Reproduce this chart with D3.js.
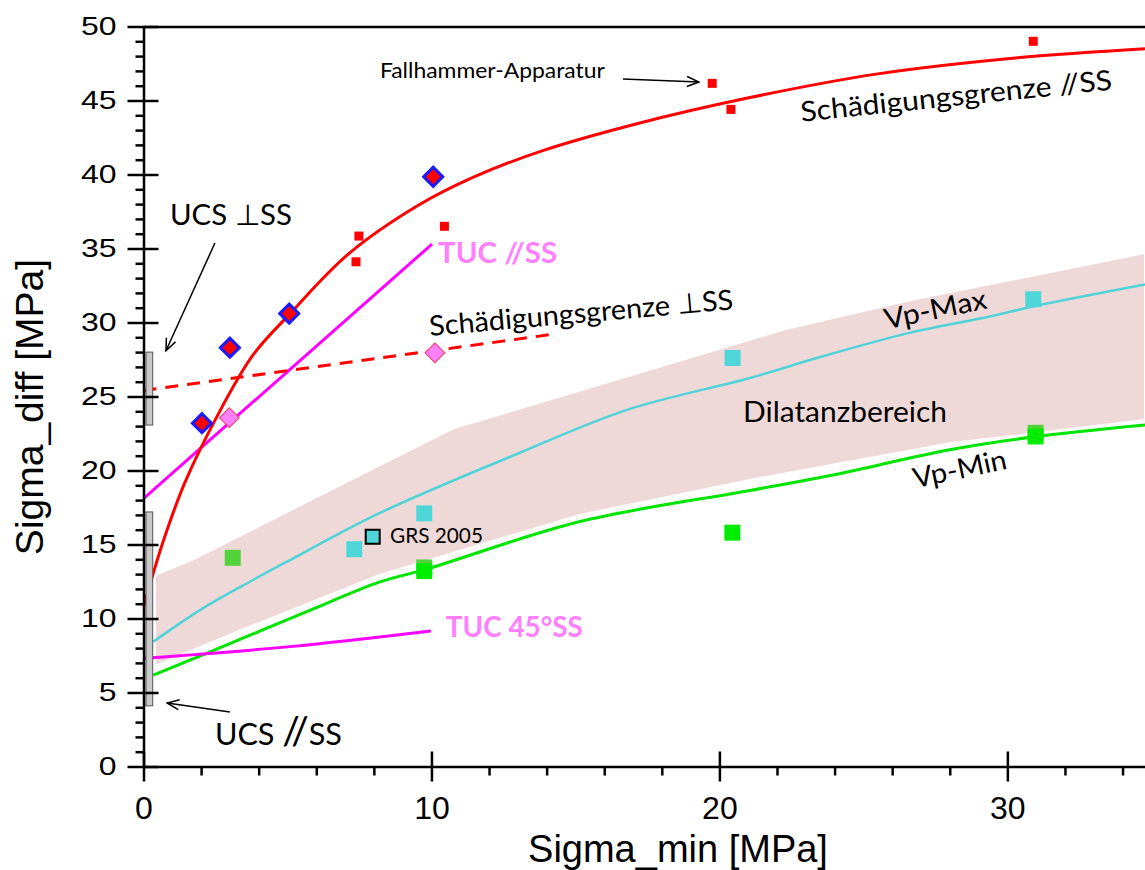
<!DOCTYPE html>
<html>
<head>
<meta charset="utf-8">
<script src="https://cdn.jsdelivr.net/npm/d3@7"></script>
<style>
  body { margin: 0; background: #fff; }
  svg { display: block; }
</style>
</head>
<body>
<div id="chart"></div>
<script>
// Values: x = Sigma_min [MPa], y = Sigma_diff [MPa]
const xTicks = [0, 10, 20, 30];
const xMinor = [2, 4, 6, 8, 12, 14, 16, 18, 22, 24, 26, 28, 32, 34];
const yTicks = [0, 5, 10, 15, 20, 25, 30, 35, 40, 45, 50];
const yMinor = d3.range(1, 50).filter(v => v % 5 !== 0);

// Schaedigungsgrenze //SS (red solid curve)
const damageParX = [0, 0.7, 1.44, 2.73, 3.8, 5.09, 7.1, 9.53, 11.44, 13.84, 17.07, 21.06, 25.5, 30.43, 34.78];
const damageParY = [10.8, 15.3, 19.2, 24.3, 27.8, 30.6, 34.6, 37.9, 39.8, 41.6, 43.4, 45.2, 46.8, 47.9, 48.5];
// Schaedigungsgrenze perpendicular SS (red dashed)
const damagePerpX = [0, 14.2];
const damagePerpY = [25.4, 29.2];
// TUC //SS and TUC 45°SS (magenta)
const tucParX = [0, 10.02];
const tucParY = [18.1, 35.3];
const tuc45X = [0, 5.09, 9.98];
const tuc45Y = [7.31, 8.1, 9.16];
// Vp-Max (cyan) and Vp-Min (green)
const vpMaxX = [0.34, 1.96, 3.8, 5.09, 8.21, 13.07, 16.79, 21.06, 23.38, 26.6, 29.39, 30.88, 34.78];
const vpMaxY = [8.43, 10.57, 12.6, 13.95, 17.13, 21.2, 24.1, 26.25, 27.6, 29.3, 30.4, 31.08, 32.57];
const vpMinX = [0.34, 2.19, 5.67, 8.21, 9.77, 15.16, 21.06, 23.94, 28.0, 30.88, 34.78];
const vpMinY = [6.18, 7.65, 10.46, 12.47, 13.3, 16.55, 18.65, 19.7, 21.4, 22.26, 23.07];
// Dilatanzbereich band edges
const bandTopX = [0.4, 1.73, 8.21, 10.76, 22.2, 26.6, 34.78];
const bandTopY = [12.94, 14.0, 20.37, 22.85, 29.5, 31.5, 34.7];
const bandLowX = [0.4, 3.24, 8.21, 15.16, 21.06, 28.0, 34.78];
const bandLowY = [6.79, 9.1, 12.95, 17.0, 19.36, 21.84, 23.41];

// measured points
const blueDiaX = [2.03, 3.0, 5.06, 10.06];
const blueDiaY = [23.2, 28.3, 30.6, 39.85];
const pinkDiaX = [2.98, 10.12];
const pinkDiaY = [23.57, 27.95];
const redSqX = [7.48, 7.38, 10.45, 19.75, 20.4, 30.9];
const redSqY = [35.84, 34.1, 36.5, 46.16, 44.4, 49.0];
const cyanSqX = [7.32, 9.75, 20.46, 30.9];
const cyanSqY = [14.68, 17.1, 27.6, 31.57];
const grsX = [7.96];
const grsY = [15.53];
const lightGreenX = [3.1, 9.75, 30.98];
const lightGreenY = [14.1, 13.45, 22.55];
const greenX = [9.75, 20.45, 30.98];
const greenY = [13.2, 15.8, 22.3];

// UCS ranges drawn as grey bars on the y axis
const ucsBarX = [0.087, 0.32];
const ucsPerp = [23.07, 28.0];
const ucsPar = [4.1, 17.2];

const width = 1145, height = 870;
const svg = d3.select("#chart").append("svg")
    .attr("width", width)
    .attr("height", height);

const x = d3.scaleLinear().domain([0, 34.78]).range([143.5, 1145]);
const y = d3.scaleLinear().domain([0, 50]).range([766.5, 26.5]);

const zip = (xs, ys) => xs.map((v, i) => [v, ys[i]]);
const line = d3.line().x(d => x(d[0])).y(d => y(d[1]));
const smooth = d3.line().x(d => x(d[0])).y(d => y(d[1])).curve(d3.curveCatmullRom.alpha(0.5));

// arrow head
svg.append("defs").append("marker")
    .attr("id", "arrow")
    .attr("viewBox", "0 0 14 12")
    .attr("refX", 13).attr("refY", 6)
    .attr("markerWidth", 14).attr("markerHeight", 12)
    .attr("markerUnits", "userSpaceOnUse")
    .attr("orient", "auto")
  .append("path")
    .attr("d", "M1,1 L13,6 L1,11")
    .attr("fill", "none")
    .attr("stroke", "#000")
    .attr("stroke-width", 1.5);

// Dilatanzbereich band
const band = zip(bandTopX, bandTopY).concat(zip(bandLowX, bandLowY).reverse());
svg.append("path")
    .attr("d", line(band) + "Z")
    .attr("fill", "#efd9d8")
    .attr("stroke", "#fff")
    .attr("stroke-width", 2);

// curves
function curve(xs, ys, color, w, dash) {
    svg.append("path")
        .attr("d", smooth(zip(xs, ys)))
        .attr("fill", "none")
        .attr("stroke", color)
        .attr("stroke-width", w)
        .attr("stroke-linejoin", "round")
        .attr("stroke-dasharray", dash || null);
}
curve(vpMinX, vpMinY, "#00e400", 3);
curve(vpMaxX, vpMaxY, "#4fd3d8", 2.5);
curve(tuc45X, tuc45Y, "#ff00ff", 3);
curve(tucParX, tucParY, "#ff00ff", 3);
curve(damagePerpX, damagePerpY, "#ff0000", 3, "13,9");
curve(damageParX, damageParY, "#ff0000", 3);

// UCS bars
[ucsPerp, ucsPar].forEach(r => {
    svg.append("rect")
        .attr("x", x(ucsBarX[0]))
        .attr("width", x(ucsBarX[1]) - x(ucsBarX[0]))
        .attr("y", y(r[1]))
        .attr("height", y(r[0]) - y(r[1]))
        .attr("fill", "#c9c9c9")
        .attr("stroke", "#555")
        .attr("stroke-width", 1);
});

// markers
function markers(xs, ys, size, fill, stroke, sw, rot) {
    svg.append("g").selectAll("path")
        .data(zip(xs, ys))
        .join("path")
        .attr("transform", d => `translate(${x(d[0])},${y(d[1])}) rotate(${rot || 0})`)
        .attr("d", d3.symbol(d3.symbolSquare, size * size))
        .attr("fill", fill)
        .attr("stroke", stroke || "none")
        .attr("stroke-width", sw || 0);
}
markers(lightGreenX, lightGreenY, 16, "#52d33c");
markers(greenX, greenY, 16, "#00ec00");
markers(cyanSqX, cyanSqY, 16, "#4fd6d8");
markers(grsX, grsY, 14, "#4fd6d8", "#000", 2);
markers(redSqX, redSqY, 9, "#ff0000");
markers(pinkDiaX, pinkDiaY, 14, "#ff80ff", "#ff3a5a", 1, 45);
markers(blueDiaX, blueDiaY, 13.5, "#ff0000", "#1a1aff", 3, 45);

// axes
const tickFont = "'Liberation Sans', Arial, sans-serif";

const gyMinor = svg.append("g").attr("transform", `translate(${x(0)},0)`)
    .call(d3.axisLeft(y).tickValues(yMinor).tickSize(8).tickFormat(""));
gyMinor.select(".domain").remove();
gyMinor.selectAll(".tick line").attr("stroke-width", 2.5);

const gy = svg.append("g").attr("transform", `translate(${x(0)},0)`)
    .call(d3.axisLeft(y).tickValues(yTicks).tickSize(16).tickSizeOuter(0).tickPadding(11));
gy.select(".domain").attr("stroke-width", 2.5);
gy.selectAll(".tick line").attr("x1", 15).attr("stroke-width", 2.5);
gy.selectAll(".tick text")
    .style("font-family", tickFont)
    .style("font-size", "32px")
    .attr("transform", "scale(1,0.78)");

const gxMinor = svg.append("g").attr("transform", `translate(0,${y(0)})`)
    .call(d3.axisBottom(x).tickValues(xMinor).tickSize(9).tickFormat(""));
gxMinor.select(".domain").remove();
gxMinor.selectAll(".tick line").attr("stroke-width", 2.5);

const gx = svg.append("g").attr("transform", `translate(0,${y(0)})`)
    .call(d3.axisBottom(x).tickValues(xTicks).tickSize(15).tickSizeOuter(0).tickPadding(15));
gx.select(".domain").attr("stroke-width", 2.5);
gx.selectAll(".tick line").attr("y1", -15).attr("stroke-width", 2.5);
gx.selectAll(".tick text")
    .style("font-family", tickFont)
    .style("font-size", "32px");

const gTop = svg.append("g").attr("transform", `translate(0,${y(50)})`)
    .call(d3.axisTop(x).tickValues([]).tickSizeOuter(0));
gTop.select(".domain").attr("stroke-width", 2.5);

// axis titles
svg.append("text")
    .attr("transform", "translate(43,407) rotate(-90)")
    .attr("text-anchor", "middle")
    .style("font-family", tickFont)
    .style("font-size", "39px")
    .text("Sigma_diff [MPa]");
svg.append("text")
    .attr("x", 678).attr("y", 862)
    .attr("text-anchor", "middle")
    .style("font-family", tickFont)
    .style("font-size", "38px")
    .text("Sigma_min [MPa]");

// annotations
const noteFont = "Lato, 'Open Sans', sans-serif";
function note(txt, xv, yv, size, len, opts) {
    opts = opts || {};
    const t = svg.append("text")
        .attr("transform", `translate(${x(xv)},${y(yv)}) rotate(${opts.rot || 0})`)
        .style("font-family", noteFont)
        .style("font-size", size + "px")
        .style("font-weight", opts.bold ? "bold" : "normal")
        .attr("fill", opts.color || "#000")
        .attr("textLength", len)
        .attr("lengthAdjust", "spacingAndGlyphs");
    t.text(txt);
    return t;
}
function arrow(x1, y1, x2, y2) {
    svg.append("line")
        .attr("x1", x(x1)).attr("y1", y(y1))
        .attr("x2", x(x2)).attr("y2", y(y2))
        .attr("stroke", "#000")
        .attr("stroke-width", 1.5)
        .attr("marker-end", "url(#arrow)");
}

note("Fallhammer-Apparatur", 8.21, 46.52, 21, 225);
arrow(16.65, 46.45, 19.29, 46.25);

note("UCS \u22A5SS", 0.92, 36.59, 29, 122);
arrow(2.48, 35.37, 0.78, 28.09);

const ucsParLabel = note("", 2.48, 1.45, 30, 127);
ucsParLabel.append("tspan").text("UCS ");
ucsParLabel.append("tspan").style("font-size", "38px").text("//");
ucsParLabel.append("tspan").text("SS");
arrow(3.0, 3.68, 0.82, 4.29);

note("Schädigungsgrenze //SS", 22.85, 43.57, 28, 313, {rot: -5.9});
note("Schädigungsgrenze \u22A5SS", 9.95, 29.09, 28, 305, {rot: -5});
note("Vp-Max", 25.8, 29.54, 28, 104, {rot: -11.7});
note("Dilatanzbereich", 20.82, 23.28, 29, 204);
note("Vp-Min", 26.8, 18.8, 28, 95, {rot: -12});
note("GRS 2005", 8.56, 15.1, 21, 93);
note("TUC //SS", 10.23, 34.02, 28, 119, {bold: true, color: "#ff80ff"});
note("TUC 45°SS", 10.5, 8.75, 28, 137, {bold: true, color: "#ff80ff"});
</script>
</body>
</html>
